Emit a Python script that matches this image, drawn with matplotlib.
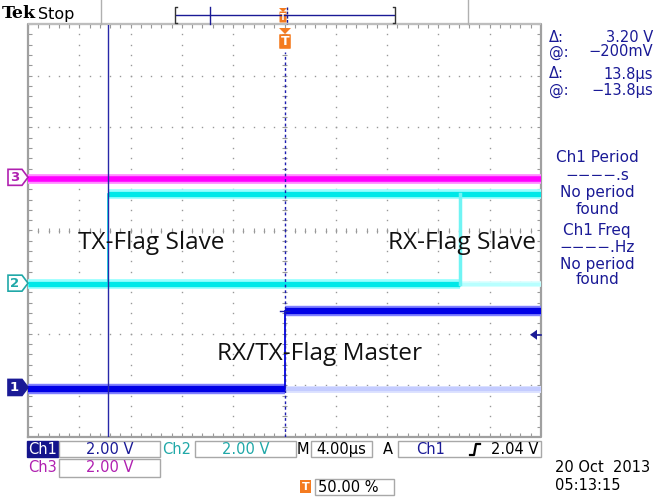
import numpy as np
import matplotlib
matplotlib.use("Agg")
import matplotlib.pyplot as plt
from matplotlib.patches import Rectangle, Polygon, FancyBboxPatch

# ---------------- data (time in µs, voltage in V) ----------------
time_per_div = 4.0          # µs/div
volt_per_div = [2.0, 2.0, 2.0]   # ch1, ch2, ch3
ch_pos_div = [-3.04, -1.02, 1.03]  # channel ground positions (div)

ch1_low_v, ch1_high_v, ch1_edge_t = -0.05, 2.98, 0.0
ch2_low_v, ch2_high_v = -0.05, 3.45
ch2_rise_t, ch2_fall_t = -13.8, 13.7
ch3_level_v = -0.05
cursor_t = -13.8
trig_level_v = 2.04

labels = ["TX-Flag Slave", "RX-Flag Slave", "RX/TX-Flag Master"]
label_t = [-16.1, 8.1, -5.3]
label_v_div = [-0.24, -0.24, -2.40]

meas_lines = ["Δ:", "3.20 V", "@:", "\u2212200mV", "Δ:", "13.8µs", "@:", "\u221213.8µs"]
ch1_meas = ["Ch1 Period", "\u2212\u2212\u2212\u2212.s", "No period", "found",
            "Ch1 Freq", "\u2212\u2212\u2212\u2212.Hz", "No period", "found"]

NAVY = "#1a1a96"
MAG = "#ff00ff"
CYAN = "#00e8e8"
BLUE = "#0000e6"
TEAL = "#20a8a8"
PURP = "#b020b0"
ORANGE = "#f47b20"
GRAY = "#999999"

def vdiv(ch, v):
    return ch_pos_div[ch] + v / volt_per_div[ch]

fig = plt.figure(figsize=(6.62, 4.97), dpi=100)
W, H = 662, 497
x0, x1, y0, y1 = 28, 541, 24, 437
ax = fig.add_axes([x0 / W, 1 - y1 / H, (x1 - x0) / W, (y1 - y0) / H])
ax.set_xlim(-5 * time_per_div, 5 * time_per_div)
ax.set_ylim(-4, 4)
ax.axis("off")
ax.set_zorder(2)

# ---------------- graticule ----------------
sub = np.arange(-4, 4.001, 0.2)
subx = np.arange(-5, 5.001, 0.2) * time_per_div
for k in range(-4, 5):
    if k == 0:
        continue
    xx = k * time_per_div
    ax.plot(np.full_like(sub, xx), sub, ls="none", marker="s", ms=1.0, color=GRAY, mew=0)
for k in range(-3, 4):
    if k == 0:
        continue
    ax.plot(subx, np.full_like(subx, k), ls="none", marker="s", ms=1.0, color=GRAY, mew=0)
# center lines with ticks
ax.plot(subx, np.zeros_like(subx), ls="none", marker="s", ms=1.0, color=GRAY, mew=0)
ax.plot(np.zeros_like(sub), sub, ls="none", marker="s", ms=1.0, color=GRAY, mew=0)
ax.vlines(subx, -0.05, 0.05, color=GRAY, lw=0.8)
ax.hlines(sub, -0.2, 0.2, color=GRAY, lw=0.8)
# border ticks
ax.vlines(subx, 4 - 0.07, 4, color=GRAY, lw=0.8)
ax.vlines(subx, -4, -4 + 0.07, color=GRAY, lw=0.8)
ax.hlines(sub, -20, -20 + 0.28, color=GRAY, lw=0.8)
ax.hlines(sub, 20 - 0.28, 20, color=GRAY, lw=0.8)
ax.plot([-20, 20, 20, -20, -20], [-4, -4, 4, 4, -4], color="#a0a0a0", lw=1.6, clip_on=False)

# ---------------- traces ----------------
def band(t0, t1, y, core, halo, lw_core, lw_halo, alpha=1.0):
    ax.plot([t0, t1], [y, y], color=halo, lw=lw_halo, solid_capstyle="butt", alpha=alpha, zorder=3)
    ax.plot([t0, t1], [y, y], color=core, lw=lw_core, solid_capstyle="butt", alpha=alpha, zorder=4)

tmin, tmax = -20, 20
# ch3
band(tmin, tmax, vdiv(2, ch3_level_v), MAG, "#ff8cff", 4.0, 7.0)
# ch2
band(tmin, ch2_fall_t, vdiv(1, ch2_low_v), CYAN, "#98ffff", 3.8, 7.0)
band(ch2_fall_t, tmax, vdiv(1, ch2_low_v), "#b8ffff", "#d8ffff", 2.5, 4.0)
band(ch2_rise_t, tmax, vdiv(1, ch2_high_v), CYAN, "#98ffff", 3.8, 7.0)
ax.plot([ch2_rise_t, ch2_rise_t], [vdiv(1, ch2_low_v), vdiv(1, ch2_high_v)], color=CYAN, lw=1.2, zorder=4)
ax.plot([ch2_fall_t, ch2_fall_t], [vdiv(1, ch2_low_v), vdiv(1, ch2_high_v)], color="#70f4f4", lw=2.5, zorder=4)
# ch1
band(tmin, ch1_edge_t, vdiv(0, ch1_low_v), BLUE, "#8080ff", 4.5, 7.5)
band(ch1_edge_t, tmax, vdiv(0, ch1_low_v), "#c4ccff", "#dde2ff", 3.0, 5.0)
band(ch1_edge_t, tmax, vdiv(0, ch1_high_v), BLUE, "#8080ff", 4.5, 7.5)
ax.plot([ch1_edge_t, ch1_edge_t], [vdiv(0, ch1_low_v), vdiv(0, ch1_high_v)], color=BLUE, lw=1.3, zorder=4)

# cursor + trigger position
ax.plot([cursor_t, cursor_t], [-4, 4], color="#2828a8", lw=1.0, zorder=5)
ax.plot([0, 0], [-4, 3.45], color="#1c1cb0", lw=1.0, ls=(0, (2, 2)), zorder=5)
ax.plot([-0.35, 0.35], [vdiv(0, ch1_high_v), vdiv(0, ch1_high_v)], color="#1c1cb0", lw=1.0, zorder=5)

for txt, t, yd in zip(labels, label_t, label_v_div):
    ax.text(t, yd, txt, fontsize=17.6, family="Open Sans", color="#111111", va="center", ha="left", zorder=6)

# ---------------- overlay (instrument chrome) ----------------
ov = fig.add_axes([0, 0, 1, 1])
ov.set_xlim(0, W)
ov.set_ylim(H, 0)
ov.axis("off")
ov.set_zorder(3)
ov.patch.set_alpha(0)

def px_y(ch, v):
    d = vdiv(ch, v)
    return y0 + (4 - d) / 8 * (y1 - y0)

ov.text(2, 14, "Tek", fontsize=12.5, family="DejaVu Serif", weight="bold", va="center", color="black")
ov.text(38, 14, "Stop", fontsize=11.5, family="DejaVu Sans", va="center", color="black")
ov.plot([101, 101], [0, 24], color="#b0b0b0", lw=1)
ov.plot([468, 468], [0, 24], color="#b0b0b0", lw=1)
# record view bracket
ov.plot([176, 394], [15, 15], color=NAVY, lw=1)
ov.plot([177, 175, 175, 177], [7, 7, 23, 23], color="#333333", lw=1)
ov.plot([393, 395, 395, 393], [7, 7, 23, 23], color="#333333", lw=1)
ov.plot([210, 210], [7, 24], color=NAVY, lw=1)
ov.plot([287, 287], [7, 24], color=NAVY, lw=1, ls=(0, (2, 1)))
ov.add_patch(FancyBboxPatch((280, 12), 6, 10, boxstyle="round,pad=0.5", fc=ORANGE, ec="none"))
ov.add_patch(Polygon([[279, 8], [287, 8], [283, 12]], closed=True, fc=ORANGE, ec="none"))
ov.text(283, 17, "T", fontsize=6, color="white", ha="center", va="center", weight="bold")
ov.add_patch(Rectangle((28, 22.5), 513, 2.5, fc="#bdbdbd", ec="none"))
# trigger marker below ruler
ov.add_patch(Polygon([[279, 28], [291, 28], [285, 34]], closed=True, fc=ORANGE, ec="none"))
ov.add_patch(FancyBboxPatch((280, 35), 10, 13, boxstyle="round,pad=0.8", fc=ORANGE, ec="none"))
ov.text(285, 41.5, "T", fontsize=9, color="white", ha="center", va="center", weight="bold")

# channel ground markers
def ch_marker(y, num, ec, fc, tc):
    pts = [[8, y - 8], [22, y - 8], [28, y], [22, y + 8], [8, y + 8]]
    ov.add_patch(Polygon(pts, closed=True, fc=fc, ec=ec, lw=1.2))
    ov.text(14.5, y + 0.5, num, fontsize=9.5, color=tc, ha="center", va="center", weight="bold")

ch_marker(px_y(2, 0), "3", PURP, "white", PURP)
ch_marker(px_y(1, 0), "2", TEAL, "white", TEAL)
ch_marker(px_y(0, 0), "1", NAVY, NAVY, "white")

# trigger level arrow
ty = px_y(0, trig_level_v)
ov.add_patch(Polygon([[530, ty], [537, ty - 5], [537, ty + 5]], closed=True, fc=NAVY, ec="none"))
ov.plot([536, 541], [ty, ty], color=NAVY, lw=1.2)

# right side measurement readouts
ys = [37, 52, 74, 90]
for i, y in enumerate(ys):
    ov.text(549, y, meas_lines[2 * i], fontsize=10.5, color=NAVY, va="center", ha="left", family="DejaVu Sans")
    ov.text(653, y, meas_lines[2 * i + 1], fontsize=10.5, color=NAVY, va="center", ha="right", family="DejaVu Sans")
ys2 = [158, 176, 193, 209, 230, 247, 264, 280]
for y, s in zip(ys2, ch1_meas):
    ov.text(597, y, s, fontsize=11, color=NAVY, va="center", ha="center", family="DejaVu Sans")

# bottom status boxes
def box(x, y, w, h, fc="white", ec="#a8a8a8"):
    ov.add_patch(Rectangle((x, y), w, h, fc=fc, ec=ec, lw=1))

box(27, 441, 31, 16, fc="#14148c", ec="#14148c")
ov.text(42.5, 449.5, "Ch1", fontsize=10.5, color="white", ha="center", va="center")
box(59, 441, 101, 16)
ov.text(110, 449.5, "2.00 V", fontsize=10.5, color=NAVY, ha="center", va="center")
ov.text(177, 449.5, "Ch2", fontsize=10.5, color=TEAL, ha="center", va="center")
box(195, 441, 101, 16)
ov.text(246, 449.5, "2.00 V", fontsize=10.5, color=TEAL, ha="center", va="center")
ov.text(303, 449.5, "M", fontsize=10.5, color="black", ha="center", va="center")
box(311, 441, 61, 16)
ov.text(341, 449.5, "4.00µs", fontsize=10.5, color="black", ha="center", va="center")
ov.text(388, 449.5, "A", fontsize=10.5, color="black", ha="center", va="center")
box(398, 441, 143, 16)
ov.text(431, 449.5, "Ch1", fontsize=10.5, color=NAVY, ha="center", va="center")
ov.plot([470, 474, 476, 480], [455, 455, 444, 444], color="black", lw=1.6)
ov.text(538, 449.5, "2.04 V", fontsize=10.5, color="black", ha="right", va="center")

ov.text(42.5, 467.5, "Ch3", fontsize=10.5, color=PURP, ha="center", va="center")
box(59, 459, 101, 18)
ov.text(110, 467.5, "2.00 V", fontsize=10.5, color=PURP, ha="center", va="center")

ov.add_patch(Rectangle((300, 480), 11, 13, fc=ORANGE, ec="none"))
ov.text(305.5, 486.5, "T", fontsize=8, color="white", ha="center", va="center", weight="bold")
box(315, 479, 79, 16)
ov.text(318, 487.5, "50.00 %", fontsize=10.5, color="black", ha="left", va="center")

ov.text(555, 467, "20 Oct  2013", fontsize=10.5, color="black", ha="left", va="center")
ov.text(555, 485, "05:13:15", fontsize=10.5, color="black", ha="left", va="center")

fig.savefig("out.png", dpi=100)
